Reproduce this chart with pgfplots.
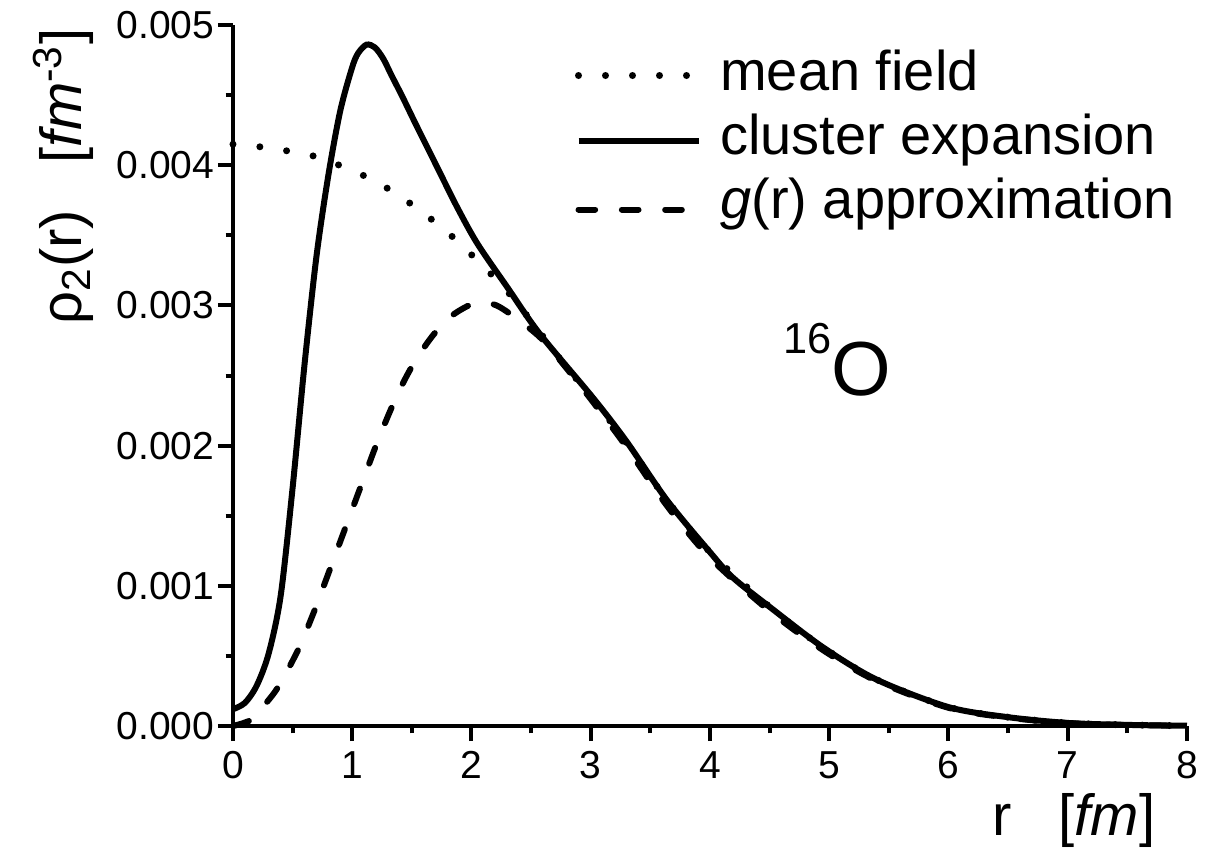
\documentclass[border=0pt]{standalone}
\usepackage{fontspec}
\setmainfont{Liberation Sans}
\usepackage{pgfplots}
\pgfplotsset{compat=1.18}
\begin{document}
\begin{tikzpicture}
\begin{axis}[
  scale only axis, width=286.2pt, height=210.3pt,
  xmin=0, xmax=8, ymin=0, ymax=0.005,
  axis lines=left, axis line style={-, line width=1.2pt},
  tick align=outside, major tick length=4.5pt, minor tick length=2.2pt,
  tick style={black, line width=1.2pt},
  xtick={0,1,...,8}, minor x tick num=1,
  ytick={0,0.001,0.002,0.003,0.004,0.005}, minor y tick num=1,
  scaled y ticks=false,
  xticklabel={\fontsize{11.7}{11.7}\selectfont\pgfmathprintnumber[assume math mode=true]{\tick}},
  yticklabel={\fontsize{11.7}{11.7}\selectfont\pgfmathprintnumber[assume math mode=true,fixed,fixed zerofill,precision=3]{\tick}},
  tick label style={inner sep=0pt},
  xticklabel style={yshift=-3pt},
  yticklabel style={xshift=-0.9pt},
  clip=false,
  legend cell align=left,
  legend image code/.code={\draw[#1] (0pt,0pt) -- (36pt,0pt);},
  legend style={draw=none, fill=none, inner sep=0pt, outer sep=0pt,
    at={(rel axis cs:0.3585,0.966)}, anchor=north west,
    font=\fontsize{16.8}{16.8}\selectfont,
    nodes={inner sep=0pt, text height=12.5pt, text depth=4pt},
    row sep=2.7pt, column sep=5.5pt},
]
% mean field
\addplot[black, line width=2.1pt, line cap=round, dash pattern=on 0pt off 8.1pt, smooth,
  legend image post style={yshift=0.25pt}] coordinates {
(0.00,0.00415) (0.24,0.00413) (0.47,0.00410) (0.70,0.00406) (0.92,0.00399)
(1.16,0.00390) (1.38,0.00379) (1.61,0.00365) (1.84,0.00349) (2.05,0.00332)
(2.28,0.00312) (2.50,0.00289) (2.75,0.00261) (3.02,0.00233) (3.30,0.00202)
(3.64,0.00161) (4.00,0.00124) (4.50,0.00085) (4.95,0.00056) (5.40,0.00033)
(6.00,0.000135) (6.50,0.000063) (7.00,0.000022) (7.50,0.000008) (8.00,0.000002)
};
\addlegendentry{mean field}
% cluster expansion
\addplot[black, line width=1.8pt, smooth,
  legend image post style={yshift=-0.05pt}] coordinates {
(0.00,0.000120) (0.10,0.000165) (0.20,0.000290) (0.30,0.000520) (0.40,0.000930)
(0.50,0.00170) (0.60,0.00258) (0.70,0.00335) (0.80,0.00393) (0.90,0.00439)
(1.00,0.00470) (1.05,0.00480) (1.12,0.00486) (1.19,0.00484) (1.26,0.00476)
(1.33,0.00464) (1.42,0.00449) (1.54,0.00428) (1.71,0.00399) (1.88,0.00370)
(2.05,0.00344) (2.30,0.00313) (2.57,0.00280) (3.02,0.00234) (3.30,0.00203)
(3.64,0.00161) (4.00,0.00124) (4.19,0.00106) (4.50,0.00085) (4.95,0.00056)
(5.40,0.00033) (6.00,0.000135) (6.50,0.000063) (7.00,0.000022) (7.50,0.000008)
(8.00,0.000002)
};
\addlegendentry{cluster expansion}
% g(r) approximation
\addplot[black, line width=1.8pt, line cap=round, dash pattern=on 5pt off 8pt, smooth,
  legend image post style={yshift=-1.55pt}] coordinates {
(0.00,0.000000) (0.10,0.000025) (0.17,0.000060) (0.34,0.00023) (0.44,0.00037)
(0.55,0.00055) (0.62,0.00069) (0.70,0.00086) (0.77,0.00102) (0.84,0.00118)
(0.91,0.00134) (0.98,0.00150) (1.05,0.00166) (1.12,0.00182) (1.19,0.00198)
(1.27,0.00215) (1.34,0.00229) (1.44,0.00247) (1.54,0.00262) (1.68,0.00279)
(1.84,0.00293) (2.04,0.00302) (2.21,0.00300) (2.42,0.00288) (2.59,0.00276)
(2.77,0.00258) (3.02,0.00231) (3.30,0.00199) (3.64,0.00157) (4.00,0.00120)
(4.50,0.00082) (4.95,0.00054) (5.40,0.00032) (6.00,0.000130) (6.50,0.000060)
(7.00,0.000021) (7.50,0.000007) (8.00,0.000002)
};
\addlegendentry{\textit{g}(r) approximation}
\coordinate (BL) at (rel axis cs:0,0);
\node[anchor=base east, font=\fontsize{17.4}{17.4}\selectfont, inner sep=0pt]
  at (rel axis cs:0.9675,-0.1555) {r\hspace{14pt}[\textit{fm}]};
\node[rotate=90, anchor=base east, font=\fontsize{17.4}{17.4}\selectfont, inner sep=0pt]
  at (rel axis cs:-0.1583,0.9957) {ρ\textsubscript{2}(r)\hspace{14pt}[\textit{fm}\textsuperscript{-3}]};
\node[anchor=base west, inner sep=0pt, font=\fontsize{23}{23}\selectfont]
  at (axis cs:4.61,0.00236) {\raisebox{12.6pt}{\fontsize{13}{13}\selectfont 16}O};
\end{axis}
\pgfresetboundingbox
\path[use as bounding box] ([shift={(-69.9pt,-37.8pt)}]BL) rectangle ++(361.8pt,255.6pt);
\end{tikzpicture}
\end{document}
